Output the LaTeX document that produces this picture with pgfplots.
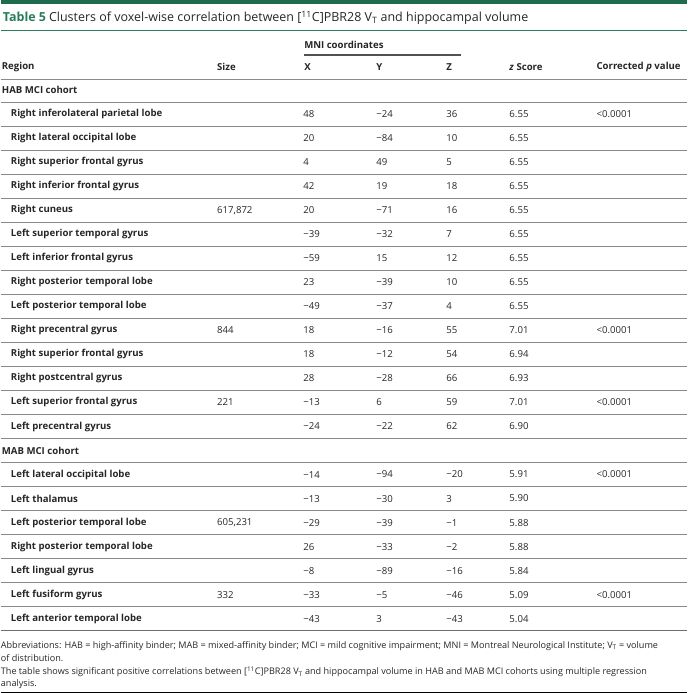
\documentclass[border=0pt]{standalone}
\usepackage{pgfplots}
\pgfplotsset{compat=1.18}
\usepackage{fontspec}
\setmainfont{Open Sans}
\definecolor{tgreen}{HTML}{1F6B4E}
\definecolor{tgreen2}{HTML}{2A7D5C}
\definecolor{tc}{HTML}{262626}
\definecolor{rule}{HTML}{8A8A8A}
\newcommand{\fb}{\fontsize{9.6}{11.5}\selectfont}
\newcommand{\ff}{\fontsize{9.08}{10.5}\selectfont}
\newcommand{\ft}{\fontsize{12.45}{14}\selectfont}
\pgfplotsset{
  txt/.style={draw=none, mark=none, forget plot, nodes near coords,
    point meta=explicit symbolic,
    nodes near coords align={anchor=west},
    every node near coord/.style={anchor=west, inner sep=0pt, text=tc, font=\fb #1}},
}
\begin{document}
\begin{tikzpicture}
\begin{axis}[scale only axis, width=685pt, height=693pt,
  xmin=0, xmax=685, ymin=0, ymax=693, y dir=reverse,
  hide axis, clip=false]
% rules
\fill[tgreen] (axis cs:0,0) rectangle (axis cs:685,4);
\draw[tgreen2, line width=0.9pt] (axis cs:0,30) -- (axis cs:685,30);
\draw[tc!80, line width=1.4pt] (axis cs:303,55) -- (axis cs:460,55);
\draw[rule, line width=1pt] (axis cs:0,79) -- (axis cs:685,79);
\pgfplotsinvokeforeach{0,...,21}{
  \draw[rule, line width=0.9pt] (axis cs:0,{102+24*#1}) -- (axis cs:685,{102+24*#1});
}
\draw[rule!80!black, line width=1.3pt] (axis cs:0,630) -- (axis cs:685,630);
\draw[black, line width=1.4pt] (axis cs:0,691.5) -- (axis cs:685,691.5);
% title
\node[anchor=west, inner sep=0pt, font=\ft, text=tc] at (axis cs:2,18)
  {\textcolor{tgreen2}{\textbf{Table 5}}\hspace{3pt}Clusters of voxel-wise correlation between [\textsuperscript{11}C]PBR28 V\textsubscript{T} and hippocampal volume};
% headers
\addplot[txt=\bfseries] coordinates {(303,45) [MNI coordinates]};
\addplot[txt=\bfseries] coordinates {(1,67) [Region] (216,67) [Size] (303,67) [X] (375,67) [Y] (445,67) [Z]};
\addplot[txt=\bfseries] coordinates {(508,67) [\textit{z} Score] (595,67) [Corrected \textit{p} value]};
% cohorts
\addplot[txt=\bfseries] coordinates {(1,90) [HAB MCI cohort] (1,450) [MAB MCI cohort]};
% region
\addplot[txt=\bfseries] coordinates {
(10,114) [Right inferolateral parietal lobe]
(10,138) [Right lateral occipital lobe]
(10,162) [Right superior frontal gyrus]
(10,186) [Right inferior frontal gyrus]
(10,210) [Right cuneus]
(10,234) [Left superior temporal gyrus]
(10,258) [Left inferior frontal gyrus]
(10,282) [Right posterior temporal lobe]
(10,306) [Left posterior temporal lobe]
(10,330) [Right precentral gyrus]
(10,354) [Right superior frontal gyrus]
(10,378) [Right postcentral gyrus]
(10,402) [Left superior frontal gyrus]
(10,426) [Left precentral gyrus]
(10,474) [Left lateral occipital lobe]
(10,498) [Left thalamus]
(10,522) [Left posterior temporal lobe]
(10,546) [Right posterior temporal lobe]
(10,570) [Left lingual gyrus]
(10,594) [Left fusiform gyrus]
(10,618) [Left anterior temporal lobe]
};
% size
\addplot[txt=] coordinates {(216,210) [617{,}872] (216,330) [844] (216,402) [221] (216,522) [605{,}231] (216,594) [332]};
% X
\addplot[txt=] coordinates {
(302,114) [48] (302,138) [20] (302,162) [4] (302,186) [42] (302,210) [20]
(302,234) [−39] (302,258) [−59] (302,282) [23] (302,306) [−49] (302,330) [18]
(302,354) [18] (302,378) [28] (302,402) [−13] (302,426) [−24]
(302,474) [−14] (302,498) [−13] (302,522) [−29] (302,546) [26] (302,570) [−8]
(302,594) [−33] (302,618) [−43]};
% Y
\addplot[txt=] coordinates {
(375,114) [−24] (375,138) [−84] (375,162) [49] (375,186) [19] (375,210) [−71]
(375,234) [−32] (375,258) [15] (375,282) [−39] (375,306) [−37] (375,330) [−16]
(375,354) [−12] (375,378) [−28] (375,402) [6] (375,426) [−22]
(375,474) [−94] (375,498) [−30] (375,522) [−39] (375,546) [−33] (375,570) [−89]
(375,594) [−5] (375,618) [3]};
% Z
\addplot[txt=] coordinates {
(445,114) [36] (445,138) [10] (445,162) [5] (445,186) [18] (445,210) [16]
(445,234) [7] (445,258) [12] (445,282) [10] (445,306) [4] (445,330) [55]
(445,354) [54] (445,378) [66] (445,402) [59] (445,426) [62]
(445,474) [−20] (445,498) [3] (445,522) [−1] (445,546) [−2] (445,570) [−16]
(445,594) [−46] (445,618) [−43]};
% z score
\addplot[txt=] coordinates {
(508,114) [6.55] (508,138) [6.55] (508,162) [6.55] (508,186) [6.55] (508,210) [6.55]
(508,234) [6.55] (508,258) [6.55] (508,282) [6.55] (508,306) [6.55] (508,330) [7.01]
(508,354) [6.94] (508,378) [6.93] (508,402) [7.01] (508,426) [6.90]
(508,474) [5.91] (508,498) [5.90] (508,522) [5.88] (508,546) [5.88] (508,570) [5.84]
(508,594) [5.09] (508,618) [5.04]};
% p value
\addplot[txt=] coordinates {(595,114) [<0.0001] (595,330) [<0.0001] (595,402) [<0.0001] (595,474) [<0.0001] (595,594) [<0.0001]};
% footnotes
\node[anchor=west, inner sep=0pt, font=\ff, text=tc] at (axis cs:0,645) {Abbreviations: HAB = high-affinity binder; MAB = mixed-affinity binder; MCI = mild cognitive impairment; MNI = Montreal Neurological Institute; V\textsubscript{T} = volume};
\node[anchor=west, inner sep=0pt, font=\ff, text=tc] at (axis cs:0,657) {of distribution.};
\node[anchor=west, inner sep=0pt, font=\ff, text=tc] at (axis cs:0,671) {The table shows significant positive correlations between [\textsuperscript{11}C]PBR28 V\textsubscript{T} and hippocampal volume in HAB and MAB MCI cohorts using multiple regression};
\node[anchor=west, inner sep=0pt, font=\ff, text=tc] at (axis cs:0,683) {analysis.};
\end{axis}
\end{tikzpicture}
\end{document}
